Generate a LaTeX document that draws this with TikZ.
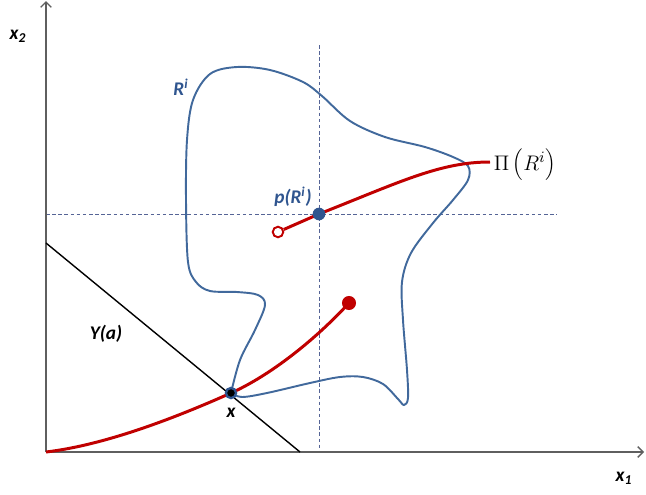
\documentclass[tikz,border=0pt]{standalone}
\usepackage{fontspec}
\newfontfamily\lblfont{Carlito}
\usetikzlibrary{arrows.meta,positioning,calc}
\definecolor{colR}{RGB}{192,0,0}
\definecolor{colB}{RGB}{65,105,156}
\definecolor{colD}{RGB}{85,100,150}
\definecolor{colL}{RGB}{47,85,143}
\definecolor{colAx}{RGB}{95,95,95}
\begin{document}
\begin{tikzpicture}[x=0.02cm,y=-0.02cm,
  every node/.style={font=\lblfont\bfseries\itshape\fontsize{11}{13}\selectfont,inner sep=1pt},
  ax/.style={colAx,line width=0.8pt,-{Straight Barb[length=3pt,width=6pt]}},
  guide/.style={colD,line width=0.5pt,dash pattern=on 2pt off 1.5pt},
  path/.style={colR,line width=1.7pt},
  region/.style={colB,line width=1.1pt},
  dot/.style={circle,inner sep=0pt,minimum size=#1}
]
\useasboundingbox (0,0) rectangle (646,494);
\coordinate (O) at (46,452);
\coordinate (ytop) at (46,1);
\coordinate (xend) at (644,452);
\coordinate (ya) at (46,243);
\coordinate (yb) at (300,452);
\coordinate (vt) at (319,45);
\coordinate (vb) at (319,452);
\coordinate (hl) at (46,214);
\coordinate (hr) at (557,214);

% dashed guides through p(R^i)
\draw[guide] (vt) -- (vb);
\draw[guide] (hl) -- (hr);

\draw[ax] (O) -- (ytop);
\draw[ax] (O) -- (xend);
\node (lx2) at (18,36) {x\textsubscript{2}};
\node (lx1) at (624,478) {x\textsubscript{1}};

% budget line
\draw[black,line width=0.8pt] (ya) -- (yb);
\node (lY) at (106,334) {Y(a)};

% the region R^i
\draw[region] plot[smooth,tension=0.55] coordinates {
  (231,393) (240,360) (255,330) (265,305) (258,295) (237,292) (210,291)
  (196,282) (188,262) (186,200) (187,140) (193,100) (210,74) (237,67)
  (270,70) (303,82) (322,96) (350,121) (385,137) (425,147) (453,157)
  (468,166) (468,180) (453,200) (433,223) (411,253) (402,282) (403,320)
  (407,370) (408,398) (404,405) (398,399) (383,384) (363,377) (340,377)
  (310,383) (267,393) (242,397) (231,393)};
\node[colL] (lR) at (181,87) {R\textsuperscript{i}};

\node[dot=8pt,fill=colR] (e1) at (349,303) {};
\node[dot=6pt,draw=colR,line width=1.1pt,fill=white] (e0) at (278,232) {};
\node[dot=7pt] (px) at (319,214) {};
\node[dot=7pt] (xx) at (231,393) {};

% expansion paths
\draw[path] (O) .. controls (105,445) and (175,418) .. (xx.center)
  .. controls (270,375.6) and (315,340) .. (e1.center);
\node[font=\fontsize{13}{15}\selectfont,anchor=west,inner sep=2pt] (lPi) at (490,165) {$\Pi\left(R^i\right)$};
\draw[path] (e0) -- (px.center) .. controls (400,182) and (440,162) .. (lPi.west |- 0,162);

\fill[colL] (px) circle (3.6pt);
\fill[black,draw=colL,line width=1.3pt] (xx) circle (2.9pt);
\node[colL] (lp) at (293,197) {p(R\textsuperscript{i})};
\node (lx) at (231,413) {x};
\end{tikzpicture}
\end{document}
